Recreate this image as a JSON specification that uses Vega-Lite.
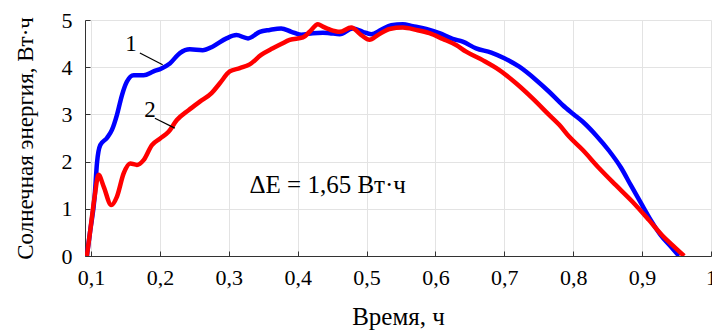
{
  "$schema": "https://vega.github.io/schema/vega-lite/v6.json",
  "width": 626,
  "height": 236,
  "autosize": "none",
  "padding": {"left": 85, "top": 20, "right": 1, "bottom": 75},
  "config": {
    "view": {"stroke": null},
    "font": "Times New Roman, Liberation Serif, DejaVu Serif, serif",
    "axis": {
      "labelFont": "Times New Roman, Liberation Serif, DejaVu Serif, serif",
      "titleFont": "Times New Roman, Liberation Serif, DejaVu Serif, serif",
      "labelFontSize": 22,
      "titleFontSize": 24,
      "labelColor": "#000",
      "titleColor": "#000",
      "titleFontWeight": "normal",
      "domainColor": "#333",
      "tickColor": "#333",
      "gridColor": "#e3e3e3",
      "gridWidth": 1
    },
    "text": {"font": "Times New Roman, Liberation Serif, DejaVu Serif, serif"}
  },
  "datasets": {
    "curves": [
      {"s": "1", "x": 0.094, "y": 0.0},
      {"s": "1", "x": 0.099, "y": 0.55},
      {"s": "1", "x": 0.1053, "y": 1.26},
      {"s": "1", "x": 0.1087, "y": 1.97},
      {"s": "1", "x": 0.1135, "y": 2.35},
      {"s": "1", "x": 0.1232, "y": 2.5},
      {"s": "1", "x": 0.1304, "y": 2.67},
      {"s": "1", "x": 0.1377, "y": 2.99},
      {"s": "1", "x": 0.145, "y": 3.41},
      {"s": "1", "x": 0.152, "y": 3.69},
      {"s": "1", "x": 0.1619, "y": 3.83},
      {"s": "1", "x": 0.1763, "y": 3.83},
      {"s": "1", "x": 0.1908, "y": 3.91},
      {"s": "1", "x": 0.203, "y": 3.98},
      {"s": "1", "x": 0.2145, "y": 4.08},
      {"s": "1", "x": 0.229, "y": 4.3},
      {"s": "1", "x": 0.2435, "y": 4.38},
      {"s": "1", "x": 0.262, "y": 4.36},
      {"s": "1", "x": 0.277, "y": 4.44},
      {"s": "1", "x": 0.2967, "y": 4.61},
      {"s": "1", "x": 0.311, "y": 4.68},
      {"s": "1", "x": 0.328, "y": 4.61},
      {"s": "1", "x": 0.345, "y": 4.75},
      {"s": "1", "x": 0.3594, "y": 4.79},
      {"s": "1", "x": 0.376, "y": 4.82},
      {"s": "1", "x": 0.391, "y": 4.75},
      {"s": "1", "x": 0.405, "y": 4.69},
      {"s": "1", "x": 0.422, "y": 4.72},
      {"s": "1", "x": 0.4367, "y": 4.73},
      {"s": "1", "x": 0.4464, "y": 4.72},
      {"s": "1", "x": 0.461, "y": 4.7},
      {"s": "1", "x": 0.48, "y": 4.82},
      {"s": "1", "x": 0.4946, "y": 4.75},
      {"s": "1", "x": 0.5068, "y": 4.7},
      {"s": "1", "x": 0.521, "y": 4.79},
      {"s": "1", "x": 0.5358, "y": 4.89},
      {"s": "1", "x": 0.5526, "y": 4.91},
      {"s": "1", "x": 0.567, "y": 4.87},
      {"s": "1", "x": 0.5865, "y": 4.81},
      {"s": "1", "x": 0.6058, "y": 4.72},
      {"s": "1", "x": 0.625, "y": 4.6},
      {"s": "1", "x": 0.6396, "y": 4.54},
      {"s": "1", "x": 0.659, "y": 4.4},
      {"s": "1", "x": 0.681, "y": 4.31},
      {"s": "1", "x": 0.7, "y": 4.19},
      {"s": "1", "x": 0.7217, "y": 4.01},
      {"s": "1", "x": 0.746, "y": 3.73},
      {"s": "1", "x": 0.765, "y": 3.48},
      {"s": "1", "x": 0.7845, "y": 3.2},
      {"s": "1", "x": 0.8, "y": 3.01},
      {"s": "1", "x": 0.8135, "y": 2.85},
      {"s": "1", "x": 0.833, "y": 2.56},
      {"s": "1", "x": 0.852, "y": 2.23},
      {"s": "1", "x": 0.869, "y": 1.88},
      {"s": "1", "x": 0.8836, "y": 1.5},
      {"s": "1", "x": 0.898, "y": 1.13},
      {"s": "1", "x": 0.9126, "y": 0.76},
      {"s": "1", "x": 0.927, "y": 0.44},
      {"s": "1", "x": 0.9416, "y": 0.2},
      {"s": "1", "x": 0.9536, "y": 0.0},
      {"s": "2", "x": 0.094, "y": 0.0},
      {"s": "2", "x": 0.099, "y": 0.55},
      {"s": "2", "x": 0.1053, "y": 1.26},
      {"s": "2", "x": 0.111, "y": 1.72},
      {"s": "2", "x": 0.1184, "y": 1.47},
      {"s": "2", "x": 0.1294, "y": 1.08},
      {"s": "2", "x": 0.1377, "y": 1.26},
      {"s": "2", "x": 0.1474, "y": 1.75},
      {"s": "2", "x": 0.157, "y": 1.96},
      {"s": "2", "x": 0.1667, "y": 1.93},
      {"s": "2", "x": 0.1763, "y": 2.03},
      {"s": "2", "x": 0.1884, "y": 2.35},
      {"s": "2", "x": 0.2004, "y": 2.49},
      {"s": "2", "x": 0.2126, "y": 2.63},
      {"s": "2", "x": 0.2246, "y": 2.88},
      {"s": "2", "x": 0.2416, "y": 3.09},
      {"s": "2", "x": 0.258, "y": 3.27},
      {"s": "2", "x": 0.275, "y": 3.45},
      {"s": "2", "x": 0.287, "y": 3.66},
      {"s": "2", "x": 0.3014, "y": 3.91},
      {"s": "2", "x": 0.316, "y": 3.98},
      {"s": "2", "x": 0.3304, "y": 4.06},
      {"s": "2", "x": 0.347, "y": 4.26},
      {"s": "2", "x": 0.364, "y": 4.4},
      {"s": "2", "x": 0.376, "y": 4.49},
      {"s": "2", "x": 0.3884, "y": 4.58},
      {"s": "2", "x": 0.4077, "y": 4.63},
      {"s": "2", "x": 0.4174, "y": 4.75},
      {"s": "2", "x": 0.4294, "y": 4.91},
      {"s": "2", "x": 0.4367, "y": 4.86},
      {"s": "2", "x": 0.4464, "y": 4.8},
      {"s": "2", "x": 0.461, "y": 4.75},
      {"s": "2", "x": 0.4778, "y": 4.84},
      {"s": "2", "x": 0.4923, "y": 4.68},
      {"s": "2", "x": 0.5043, "y": 4.58},
      {"s": "2", "x": 0.5164, "y": 4.68},
      {"s": "2", "x": 0.5333, "y": 4.81},
      {"s": "2", "x": 0.5526, "y": 4.84},
      {"s": "2", "x": 0.572, "y": 4.79},
      {"s": "2", "x": 0.5913, "y": 4.72},
      {"s": "2", "x": 0.6106, "y": 4.6},
      {"s": "2", "x": 0.63, "y": 4.47},
      {"s": "2", "x": 0.6445, "y": 4.33},
      {"s": "2", "x": 0.6685, "y": 4.15},
      {"s": "2", "x": 0.6928, "y": 3.94},
      {"s": "2", "x": 0.717, "y": 3.66},
      {"s": "2", "x": 0.741, "y": 3.34},
      {"s": "2", "x": 0.765, "y": 2.99},
      {"s": "2", "x": 0.7797, "y": 2.78},
      {"s": "2", "x": 0.794, "y": 2.53},
      {"s": "2", "x": 0.8135, "y": 2.25},
      {"s": "2", "x": 0.8377, "y": 1.86},
      {"s": "2", "x": 0.8619, "y": 1.5},
      {"s": "2", "x": 0.886, "y": 1.15},
      {"s": "2", "x": 0.91, "y": 0.76},
      {"s": "2", "x": 0.929, "y": 0.44},
      {"s": "2", "x": 0.944, "y": 0.23},
      {"s": "2", "x": 0.961, "y": 0.0}
    ],
    "numlabels": [
      {"x": 0.158, "y": 4.49, "t": "1"},
      {"x": 0.1855, "y": 3.09, "t": "2"}
    ],
    "note": [
      {"x": 0.33, "y": 1.5, "t": "ΔE = 1,65 Вт·ч"}
    ],
    "leaders": [
      {"x": 0.171, "y": 4.3, "x2": 0.204, "y2": 4.05},
      {"x": 0.1928, "y": 2.92, "x2": 0.2217, "y2": 2.71}
    ]
  },
  "layer": [
    {
      "data": {"name": "curves"},
      "mark": {"type": "line", "strokeWidth": 4.5, "interpolate": "monotone", "clip": true},
      "encoding": {
        "x": {
          "field": "x", "type": "quantitative",
          "scale": {"domain": [0.0913, 1.0], "nice": false, "zero": false},
          "axis": {
            "title": "Время, ч",
            "titleFontSize": 25,
            "values": [0.1, 0.2, 0.3, 0.4, 0.5, 0.6, 0.7, 0.8, 0.9, 1.0],
            "labelExpr": "replace(format(datum.value, '~g'), '.', ',')",
            "tickSize": -5,
            "labelPadding": 16,
            "titlePadding": 16,
            "labelFlush": false,
            "labelOverlap": false
          }
        },
        "y": {
          "field": "y", "type": "quantitative",
          "scale": {"domain": [0, 5], "nice": false},
          "axis": {
            "title": "Солнечная энергия, Вт·ч",
            "titleFontSize": 23,
            "values": [0, 1, 2, 3, 4, 5],
            "tickSize": -5,
            "labelPadding": 18,
            "titlePadding": 24,
            "labelFlush": false
          }
        },
        "color": {
          "field": "s", "type": "nominal",
          "scale": {"domain": ["2", "1"], "range": ["#ff0000", "#0000ff"]},
          "legend": null
        },
        "order": {"field": "x", "type": "quantitative"}
      }
    },
    {
      "data": {"name": "leaders"},
      "mark": {"type": "rule", "color": "#000", "strokeWidth": 1.2},
      "encoding": {
        "x": {"field": "x", "type": "quantitative"},
        "y": {"field": "y", "type": "quantitative"},
        "x2": {"field": "x2"},
        "y2": {"field": "y2"}
      }
    },
    {
      "data": {"name": "numlabels"},
      "mark": {"type": "text", "fontSize": 23, "color": "#000", "baseline": "middle", "align": "center"},
      "encoding": {
        "x": {"field": "x", "type": "quantitative"},
        "y": {"field": "y", "type": "quantitative"},
        "text": {"field": "t"}
      }
    },
    {
      "data": {"name": "note"},
      "mark": {"type": "text", "fontSize": 25, "color": "#000", "baseline": "middle", "align": "left"},
      "encoding": {
        "x": {"field": "x", "type": "quantitative"},
        "y": {"field": "y", "type": "quantitative"},
        "text": {"field": "t"}
      }
    }
  ]
}
